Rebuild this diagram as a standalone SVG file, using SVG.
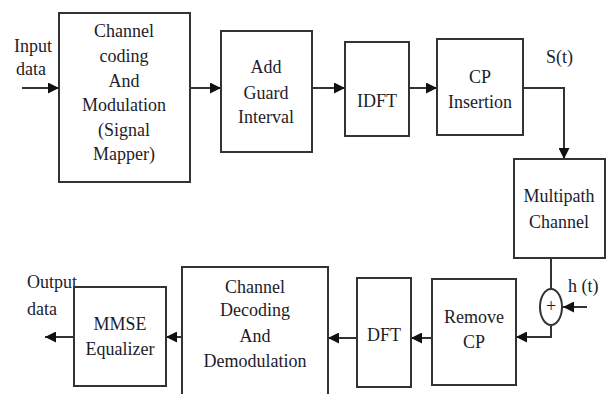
<svg xmlns="http://www.w3.org/2000/svg" width="606" height="394" viewBox="0 0 606 394">
  <defs>
    <marker id="arrow" viewBox="0 0 10 10" refX="10" refY="5" markerWidth="11" markerHeight="11" markerUnits="userSpaceOnUse" orient="auto">
      <path d="M0,0 L10,5 L0,10 z" fill="#111"/>
    </marker>
    <style>
      .box { fill: #fff; stroke: #333; stroke-width: 2; }
      .wire { fill: none; stroke: #333; stroke-width: 2; }
      .arr { fill: none; stroke: #333; stroke-width: 2; marker-end: url(#arrow); }
      text { font-size: 18px; fill: #1c1c2a; }
      .c { text-anchor: middle; }
    </style>
  </defs>
  <rect width="606" height="394" fill="#fff"/>

  <!-- connectors -->
  <g id="connectors">
    <line class="arr" x1="22" y1="88" x2="59" y2="88"/>
    <line class="arr" x1="190" y1="88" x2="221" y2="88"/>
    <line class="arr" x1="312" y1="88" x2="345" y2="88"/>
    <line class="arr" x1="409" y1="88" x2="437" y2="88"/>
    <polyline class="arr" points="523,88 564,88 564,159"/>
    <line class="wire" x1="551" y1="258" x2="551" y2="289"/>
    <polyline class="arr" points="551,325 551,337 516,337"/>
    <line class="arr" x1="587" y1="307" x2="563" y2="307"/>
    <line class="arr" x1="432" y1="338" x2="411" y2="338"/>
    <line class="arr" x1="357" y1="338" x2="328" y2="338"/>
    <line class="arr" x1="182" y1="337" x2="166" y2="337"/>
    <line class="arr" x1="74" y1="337" x2="45" y2="337"/>
  </g>

  <g font-family="'Liberation Serif', Tinos, 'Times New Roman', 'DejaVu Serif', serif">
    <!-- free labels -->
    <g id="labels">
      <text x="14" y="52">Input</text>
      <text x="16" y="75">data</text>
      <text x="546" y="63">S(t)</text>
      <text x="568" y="292">h (t)</text>
      <text x="27" y="288">Output</text>
      <text x="27" y="315">data</text>
    </g>

    <g id="channel-coding">
      <rect class="box" x="59" y="13" width="131" height="169"/>
      <text class="c" x="124" y="37">Channel</text>
      <text class="c" x="124" y="62">coding</text>
      <text class="c" x="124" y="87">And</text>
      <text class="c" x="124" y="111">Modulation</text>
      <text class="c" x="124" y="136">(Signal</text>
      <text class="c" x="124" y="160">Mapper)</text>
    </g>

    <g id="guard-interval">
      <rect class="box" x="221" y="31" width="91" height="121"/>
      <text class="c" x="266" y="73">Add</text>
      <text class="c" x="266" y="99">Guard</text>
      <text class="c" x="266" y="123">Interval</text>
    </g>

    <g id="idft">
      <rect class="box" x="345" y="42" width="64" height="94"/>
      <text class="c" x="377" y="107">IDFT</text>
    </g>

    <g id="cp-insertion">
      <rect class="box" x="437" y="39" width="86" height="96"/>
      <text class="c" x="480" y="83">CP</text>
      <text class="c" x="480" y="108">Insertion</text>
    </g>

    <g id="multipath-channel">
      <rect class="box" x="514" y="159" width="91" height="99"/>
      <text class="c" x="559" y="202">Multipath</text>
      <text class="c" x="559" y="228">Channel</text>
    </g>

    <g id="adder">
      <ellipse class="box" cx="551" cy="307" rx="11" ry="18"/>
      <text class="c" x="551" y="312" font-size="12">+</text>
    </g>

    <g id="remove-cp">
      <rect class="box" x="432" y="279" width="84" height="106"/>
      <text class="c" x="474" y="323">Remove</text>
      <text class="c" x="474" y="348">CP</text>
    </g>

    <g id="dft">
      <rect class="box" x="357" y="278" width="54" height="109"/>
      <text class="c" x="384" y="341">DFT</text>
    </g>

    <g id="channel-decoding">
      <rect class="box" x="182" y="267" width="146" height="140"/>
      <text class="c" x="255" y="293">Channel</text>
      <text class="c" x="255" y="316">Decoding</text>
      <text class="c" x="255" y="342">And</text>
      <text class="c" x="255" y="367">Demodulation</text>
    </g>

    <g id="mmse-equalizer">
      <rect class="box" x="74" y="287" width="92" height="99"/>
      <text class="c" x="120" y="330">MMSE</text>
      <text class="c" x="120" y="355">Equalizer</text>
    </g>
  </g>
</svg>
